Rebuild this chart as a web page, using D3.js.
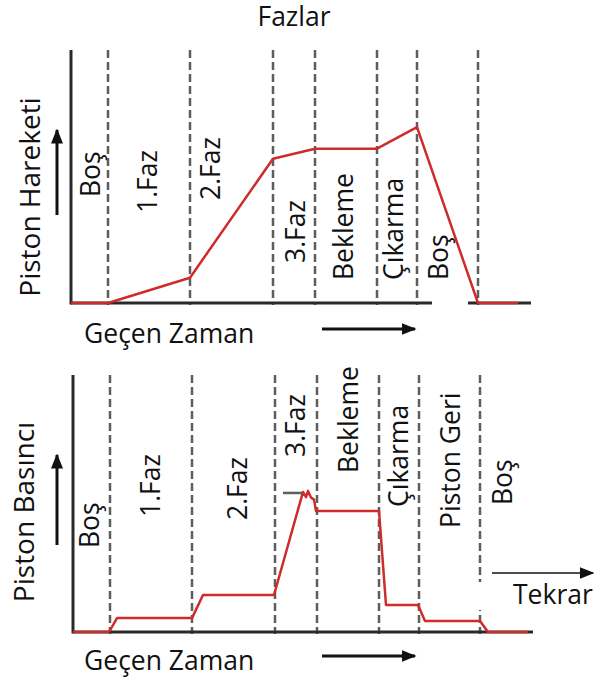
<!DOCTYPE html>
<html>
<head>
<meta charset="utf-8">
<script src="https://cdn.jsdelivr.net/npm/d3@7"></script>
<style>
    body { margin: 0; background: #fff; }
    svg text { font-family: "Open Sans", "Noto Sans", sans-serif; fill: #111; }
</style>
</head>
<body>
<div id="chart"></div>
<script>
// phase boundaries (time units), shared by both panels
const phaseBounds = [3.7, 11.9, 20.2, 24.4, 30.6, 34.6, 40.7]

// piston motion
const motionTime = [0, 3.7, 11.9, 20.2, 24.4, 30.6, 34.6, 40.7, 44.7]
const motionValue = [0, 0, 10, 57, 61, 61, 69.5, 0, 0]

// piston pressure
const pressureTime = [0, 3.6, 4.4, 11.9, 13.0, 20.1, 23.0, 23.3, 23.5, 23.8, 24.1, 24.3, 30.6, 31.3, 34.5, 35.2, 40.7, 41.5, 45.5]
const pressureValue = [0, 0, 5.4, 5.4, 14.4, 14.4, 54.5, 52.5, 54.9, 52.3, 51.5, 47.1, 47.1, 10.5, 10.5, 4.3, 4.3, 0, 0]
const pressureMark = 54.1

const topPhaseLabels = ["Boş", "1.Faz", "2.Faz", "3.Faz", "Bekleme", "Çıkarma", "Boş"]
const bottomPhaseLabels = ["Boş", "1.Faz", "2.Faz", "3.Faz", "Bekleme", "Çıkarma", "Piston Geri", "Boş"]

const title = "Fazlar"
const xLabel = "Geçen Zaman"
const topYLabel = "Piston Hareketi"
const bottomYLabel = "Piston Basıncı"
const repeatLabel = "Tekrar"

const W = 595, H = 681
const fontSize = 26.5
const red = "#cf2b2b"

const svg = d3.select("#chart").append("svg")
    .attr("width", W)
    .attr("height", H)

const defs = svg.append("defs")
defs.append("marker")
    .attr("id", "head")
    .attr("viewBox", "0 0 10 10")
    .attr("refX", 9).attr("refY", 5)
    .attr("markerWidth", 5).attr("markerHeight", 5)
    .attr("markerUnits", "strokeWidth")
    .attr("orient", "auto")
    .append("path").attr("d", "M0,1 L10,5 L0,9 Z").attr("fill", "#111")
defs.append("marker")
    .attr("id", "headThin")
    .attr("viewBox", "0 0 10 10")
    .attr("refX", 9).attr("refY", 5)
    .attr("markerWidth", 10).attr("markerHeight", 10)
    .attr("markerUnits", "strokeWidth")
    .attr("orient", "auto")
    .append("path").attr("d", "M0,1 L10,5 L0,9 Z").attr("fill", "#111")

function arrow(g, x1, y1, x2, y2, thin) {
    g.append("line")
        .attr("x1", x1).attr("y1", y1)
        .attr("x2", x2).attr("y2", y2)
        .attr("stroke", "#111")
        .attr("stroke-width", thin ? 1.5 : 3)
        .attr("marker-end", thin ? "url(#headThin)" : "url(#head)")
}

function vLabel(g, text, x, yBottom) {
    g.append("text")
        .attr("transform", "translate(" + x + "," + yBottom + ") rotate(-90)")
        .attr("dy", "0.36em")
        .attr("font-size", fontSize)
        .text(text)
}

// one panel: axes, phase lines, red curve, labels
function panel(opts) {
    const x = d3.scaleLinear().domain([0, 46]).range([opts.left, opts.left + 460])
    const y = d3.scaleLinear().domain([0, 100]).range([opts.bottom, opts.top])
    const g = svg.append("g")

    // phase separators
    g.append("g").selectAll("line")
        .data(phaseBounds)
        .enter().append("line")
        .attr("x1", d => x(d)).attr("x2", d => x(d))
        .attr("y1", opts.top).attr("y2", opts.bottom + 2)
        .attr("stroke", "#5e5e5e")
        .attr("stroke-width", 2.5)
        .attr("stroke-dasharray", "8,4")

    // axes
    g.append("line")
        .attr("x1", opts.left).attr("x2", opts.left)
        .attr("y1", opts.top).attr("y2", opts.bottom + 1.5)
        .attr("stroke", "#2a2a2a").attr("stroke-width", 3)
    g.append("line")
        .attr("x1", opts.left).attr("x2", x(46))
        .attr("y1", opts.bottom).attr("y2", opts.bottom)
        .attr("stroke", "#2a2a2a").attr("stroke-width", 3)

    // curve
    const line = d3.line().x(d => x(d[0])).y(d => y(d[1]))
    g.append("path")
        .datum(d3.zip(opts.time, opts.value))
        .attr("d", line)
        .attr("fill", "none")
        .attr("stroke", red)
        .attr("stroke-width", 2.5)
        .attr("stroke-linejoin", "round")

    // phase labels
    opts.labels.forEach((t, i) => vLabel(g, t, opts.labelPos[i][0], opts.labelPos[i][1]))

    // y label + up arrow
    g.append("text")
        .attr("transform", "translate(" + opts.yLabelX + "," + opts.yLabelY + ") rotate(-90)")
        .attr("text-anchor", "middle")
        .attr("dy", "0.36em")
        .attr("font-size", fontSize + 1.5)
        .text(opts.yLabel)
    arrow(g, 57, opts.arrowY[0], 57, opts.arrowY[1])

    // x label + right arrow
    g.append("text")
        .attr("x", 84).attr("y", opts.xLabelY)
        .attr("font-size", fontSize)
        .text(xLabel)
    arrow(g, 322, opts.xArrowY, 415, opts.xArrowY)

    return {g, x, y}
}

svg.append("text")
    .attr("x", 294).attr("y", 26)
    .attr("text-anchor", "middle")
    .attr("font-size", fontSize)
    .text(title)

const motionPanel = panel({
    left: 71, top: 50, bottom: 303,
    time: motionTime, value: motionValue,
    labels: topPhaseLabels,
    labelPos: [[90, 197], [147, 213], [210, 200], [295, 263], [343, 280], [393, 280], [438, 280]],
    yLabel: topYLabel, yLabelX: 30, yLabelY: 197,
    arrowY: [215, 130],
    xLabelY: 343, xArrowY: 329
})
// gap in the baseline under the last label
motionPanel.g.append("rect").attr("x", 432).attr("y", 300).attr("width", 36).attr("height", 8).attr("fill", "#fff")

const pressurePanel = panel({
    left: 73, top: 375, bottom: 632,
    time: pressureTime, value: pressureValue,
    labels: bottomPhaseLabels,
    labelPos: [[89, 548], [150, 517], [237, 520], [295, 457], [348, 473], [398, 507], [450, 528], [502, 505]],
    yLabel: bottomYLabel, yLabelX: 24, yLabelY: 512,
    arrowY: [545, 455],
    xLabelY: 670, xArrowY: 656
})

// short grey reference mark at the pressure peak
pressurePanel.g.append("line")
    .attr("x1", pressurePanel.x(21)).attr("x2", pressurePanel.x(23))
    .attr("y1", pressurePanel.y(pressureMark)).attr("y2", pressurePanel.y(pressureMark))
    .attr("stroke", "#5e5e5e").attr("stroke-width", 2.5)

// "Tekrar" box and arrow
pressurePanel.g.append("rect").attr("x", 432).attr("y", 582).attr("width", 163).attr("height", 28).attr("fill", "#fff")
arrow(pressurePanel.g, 492, 573, 593, 573, true)
pressurePanel.g.append("text")
    .attr("x", 513).attr("y", 604)
    .attr("font-size", fontSize)
    .text(repeatLabel)
</script>
</body>
</html>
